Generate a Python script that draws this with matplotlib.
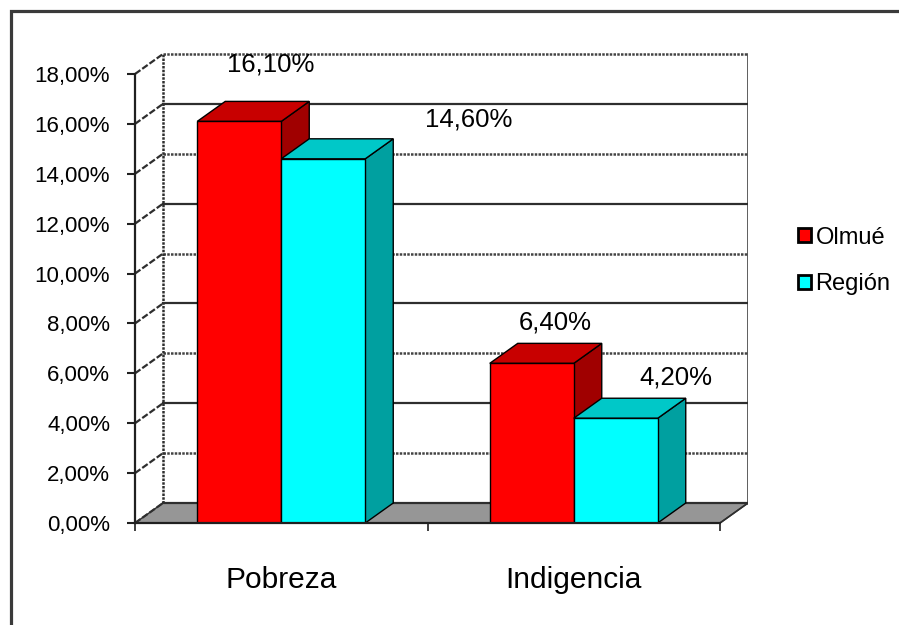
import matplotlib
matplotlib.use('Agg')
import matplotlib.pyplot as plt
from matplotlib.patches import Polygon, Rectangle

# ---- data ----
categories = ['Pobreza', 'Indigencia']
series_names = ['Olmué', 'Región']
olmue = [16.10, 6.40]
region = [14.60, 4.20]
y_ticks = [0, 2, 4, 6, 8, 10, 12, 14, 16, 18]

plt.rcParams['font.family'] = ['Liberation Sans', 'DejaVu Sans']

W, HP = 899, 625
PT = 100 / 72.0  # px per point
fig = plt.figure(figsize=(W / 100, HP / 100), dpi=100)
fig.patch.set_facecolor('white')

# outer frame
fig.add_artist(Rectangle((11 / W, -0.1), 1.2, 1.1 - 11 / HP, transform=fig.transFigure,
                         fill=False, edgecolor='#3a3a3a', linewidth=2.3))

# geometry (pixels)
x_front_l, x_back_r = 135, 748
y_zero, y_back_top = 523, 52
cat_px = 292.5
ppu = (523 - 74) / 18.0
D = 28 / cat_px
H = 20 / ppu
BW = 84 / cat_px

ax = fig.add_axes([x_front_l / W, (HP - y_zero) / HP, (x_back_r - x_front_l) / W,
                   (y_zero - y_back_top) / HP])
ax.set_facecolor('none')
ax.set_xlim(-0.5, 1.5 + D)
ax.set_ylim(0, (y_zero - y_back_top) / ppu)

line_c = '#2e2e2e'
xl, xr = -0.5, len(categories) - 0.5
# floor
ax.add_patch(Polygon([(xl, 0), (xr, 0), (xr + D, H), (xl + D, H)], closed=True,
                     facecolor='#969696', edgecolor=line_c, linewidth=1.0, zorder=1))
# back wall gridlines and left wall diagonals
for j, v in enumerate(y_ticks):
    if j % 2 == 1:
        ax.plot([xl + D, xr + D], [v + H, v + H], color='#444444', lw=1.8,
                ls=(0, (1.0, 0.5)), zorder=1.5)
    else:
        ax.plot([xl + D, xr + D], [v + H, v + H], color=line_c, lw=1.6, zorder=1.5)
    ax.plot([xl, xl + D], [v, v + H], color=line_c, lw=1.6, ls=(0, (3, 1)), zorder=1.5)
ax.plot([xl + D, xl + D], [H, y_ticks[-1] + H], color=line_c, lw=1.8, ls=(0, (1.0, 0.5)), zorder=1.5)
ax.plot([xr + D, xr + D], [H, y_ticks[-1] + H], color=line_c, lw=1.8, zorder=1.5)
ax.plot([xr, xr + D], [0, H], color=line_c, lw=1.2, zorder=1.5)

# bars
series = [olmue, region]
face_cols = [('#ff0000', '#c80000', '#a00000'), ('#00ffff', '#00c8c8', '#00a0a0')]
label_offsets_px = [[(3, 36.5), (-5, 21)], [(117, 19), (32, 21)]]
handles = []
for s, vals in enumerate(series):
    front, top, side = face_cols[s]
    lefts = [i - BW + s * BW for i in range(len(categories))]
    z = 3 + s
    for x0, v in zip(lefts, vals):
        x1 = x0 + BW
        ax.add_patch(Polygon([(x1, 0), (x1, v), (x1 + D, v + H), (x1 + D, H)], closed=True,
                             facecolor=side, edgecolor='black', lw=1.0, zorder=z))
        ax.add_patch(Polygon([(x0, v), (x1, v), (x1 + D, v + H), (x0 + D, v + H)], closed=True,
                             facecolor=top, edgecolor='black', lw=1.0, zorder=z))
    b = ax.bar(lefts, vals, width=BW, align='edge', color=front, edgecolor='black',
               linewidth=1.0, zorder=z + 0.5, label=series_names[s])
    handles.append(b)
    for k, (x0, v) in enumerate(zip(lefts, vals)):
        dx, dy = label_offsets_px[s][k]
        ax.annotate(f"{v:.2f}%".replace('.', ','), xy=(x0 + BW / 2 + D, v + H),
                    xytext=(dx / PT, dy / PT), textcoords='offset points',
                    ha='center', va='center', fontsize=18.5, color='black', zorder=10)

# axes / ticks
for sp in ['top', 'right']:
    ax.spines[sp].set_visible(False)
ax.spines['left'].set_bounds(0, y_ticks[-1])
ax.spines['bottom'].set_bounds(xl, xr)
for sp in ['left', 'bottom']:
    ax.spines[sp].set_color('#202020')
    ax.spines[sp].set_linewidth(1.6)
    ax.spines[sp].set_zorder(6)
ax.set_yticks(y_ticks)
ax.set_yticklabels([f"{v:.2f}%".replace('.', ',') for v in y_ticks])
ax.tick_params(axis='y', direction='out', length=8 / PT, width=1.5, color='#202020',
               labelsize=16, pad=17 / PT)
ax.set_xticks([xl, 0.5, xr])
ax.set_xticklabels(['', '', ''])
ax.tick_params(axis='x', which='major', direction='out', length=8 / PT, width=1.2, color='#202020')
ax.set_xticks(range(len(categories)), minor=True)
ax.set_xticklabels(categories, minor=True)
ax.tick_params(axis='x', which='minor', length=0, labelsize=21.5, pad=43 / PT)

leg = ax.legend(handles=handles, labels=series_names, loc='center left',
                bbox_to_anchor=(786 / W, (HP - 261) / HP), bbox_transform=fig.transFigure,
                frameon=False, fontsize=17, handlelength=0.55, handleheight=0.55,
                handletextpad=0.2, labelspacing=1.05, borderpad=0)
for p in leg.get_patches():
    p.set_linewidth(2.0)

fig.savefig('out.png', dpi=100)
